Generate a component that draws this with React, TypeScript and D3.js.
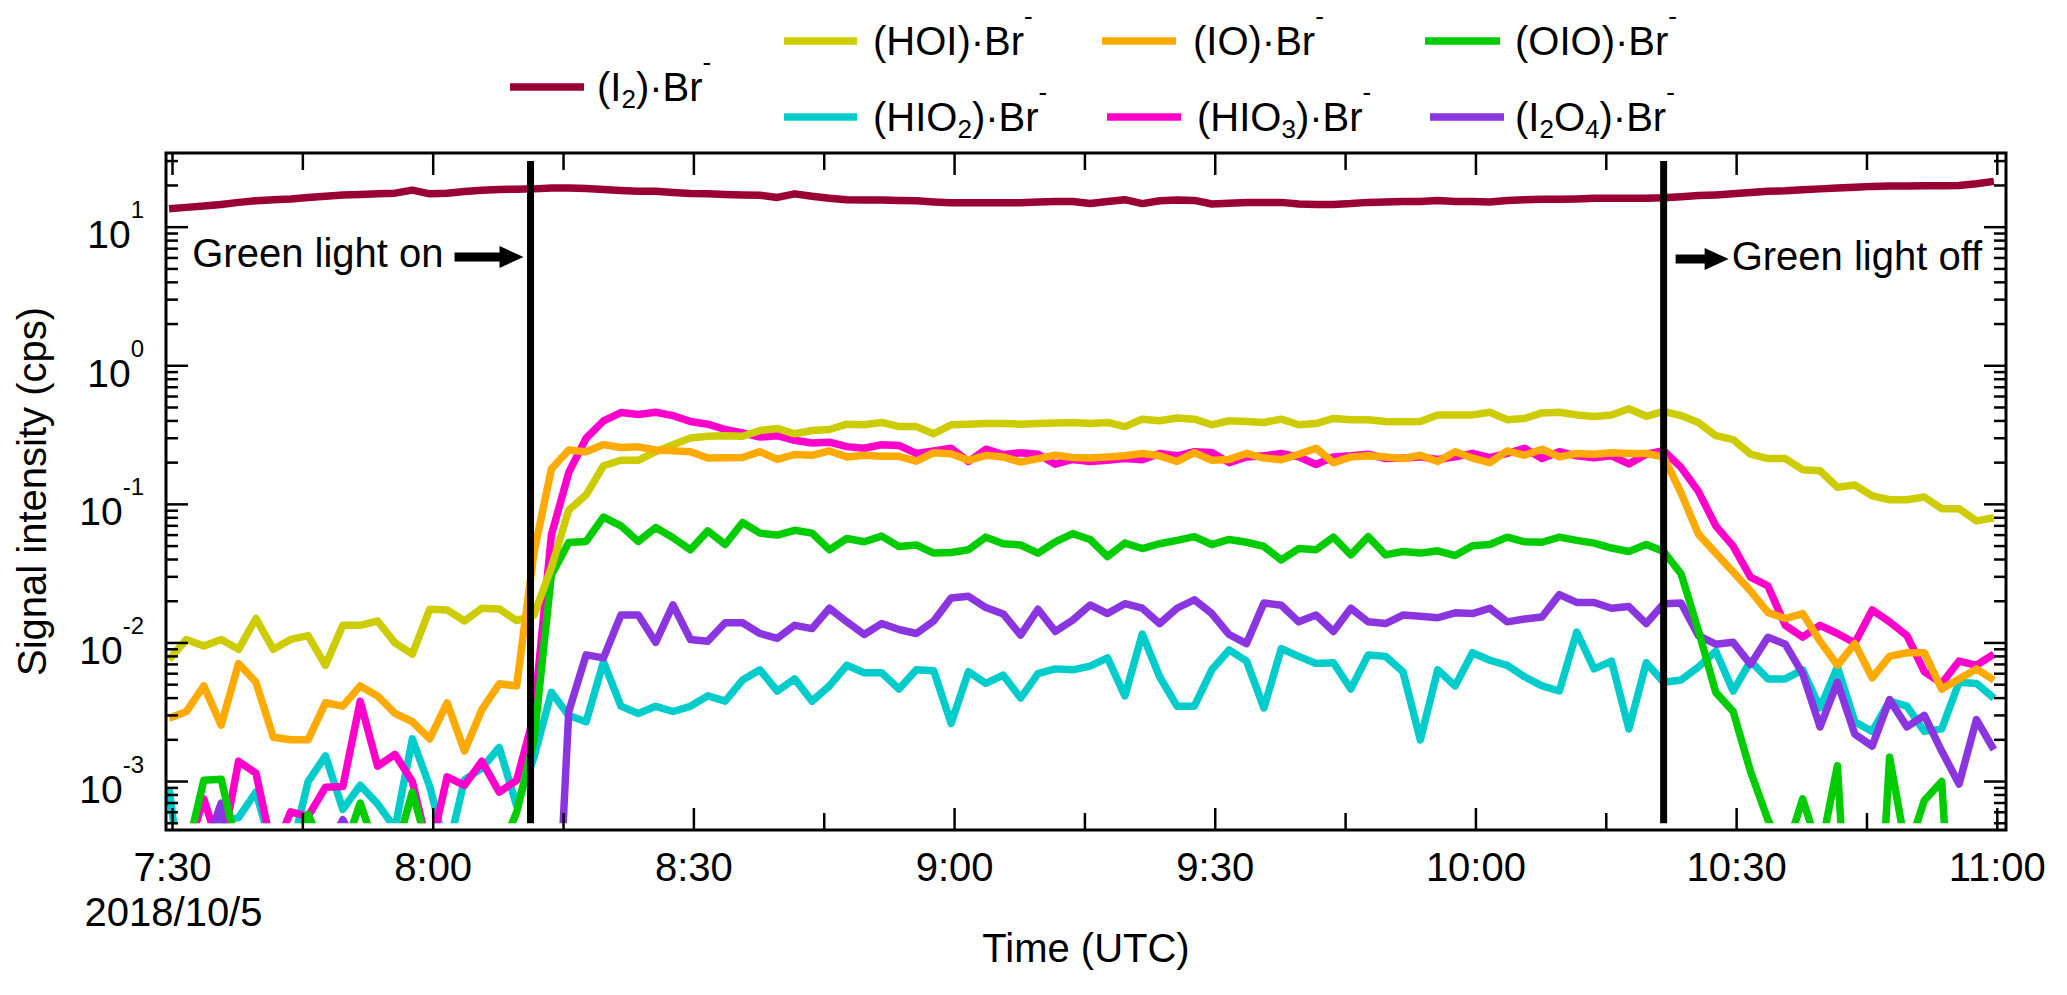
import React, { useRef, useEffect } from 'react';
import * as d3 from 'd3';

// one sample every 2 min, first sample 7:29:36 UTC on 2018/10/5
const startTime = new Date(2018, 9, 5, 7, 29, 36);
const stepMinutes = 2;

const xStart = new Date(2018, 9, 5, 7, 29, 15);
const xEnd = new Date(2018, 9, 5, 11, 1, 0);
const yMin = 4.47e-4;
const yMax = 34.3;
const clipFloor = 5e-4;   // lines are cut here, like the light markers
const markerTop = 30;

const lightOn = new Date(2018, 9, 5, 8, 11, 12);
const lightOff = new Date(2018, 9, 5, 10, 21, 36);

const yDecades = [-3, -2, -1, 0, 1];

const i2Br = [
  13.6, 13.9, 14.2, 14.6, 15.1, 15.5, 15.8, 16.0, 16.4, 16.7,
  17.1, 17.2, 17.4, 17.6, 18.5, 17.4, 17.6, 18.1, 18.5, 18.7,
  18.8, 18.9, 19.2, 19.2, 19.0, 18.7, 18.4, 18.2, 18.2, 17.8,
  17.5, 17.4, 17.2, 17.1, 17.0, 16.4, 17.4, 16.7, 16.2, 15.8,
  15.7, 15.7, 15.6, 15.5, 15.2, 15.0, 15.0, 15.0, 15.0, 15.0,
  15.2, 15.3, 15.3, 14.8, 15.3, 15.8, 14.8, 15.5, 15.7, 15.6,
  14.7, 14.9, 15.1, 15.1, 15.1, 14.7, 14.6, 14.6, 14.8, 15.1,
  15.2, 15.3, 15.3, 15.6, 15.3, 15.3, 15.2, 15.6, 15.8, 15.9,
  15.9, 16.0, 16.2, 16.2, 16.2, 16.2, 16.3, 16.6, 16.9, 17.1,
  17.4, 17.8, 18.2, 18.3, 18.6, 18.9, 19.2, 19.4, 19.7, 19.8,
  19.8, 19.9, 19.9, 20.0, 20.6, 21.4,
];

const hoiBr = [
  0.0076, 0.0106, 0.0095, 0.0106, 0.0090, 0.0150, 0.0090, 0.0106, 0.0113, 0.0069,
  0.0134, 0.0134, 0.0144, 0.0100, 0.0083, 0.0175, 0.0173, 0.0144, 0.0178, 0.0176,
  0.0145, 0.0159, 0.035, 0.091, 0.117, 0.19, 0.208, 0.208, 0.240, 0.269,
  0.301, 0.310, 0.313, 0.310, 0.341, 0.353, 0.323, 0.341, 0.347, 0.379,
  0.375, 0.390, 0.364, 0.364, 0.323, 0.375, 0.379, 0.383, 0.383, 0.379,
  0.383, 0.386, 0.390, 0.383, 0.390, 0.364, 0.412, 0.401, 0.420, 0.412,
  0.375, 0.401, 0.396, 0.390, 0.412, 0.375, 0.383, 0.417, 0.408, 0.408,
  0.396, 0.394, 0.396, 0.442, 0.442, 0.442, 0.462, 0.408, 0.417, 0.457,
  0.462, 0.442, 0.430, 0.442, 0.490, 0.432, 0.468, 0.437, 0.390, 0.313,
  0.293, 0.230, 0.214, 0.214, 0.178, 0.175, 0.133, 0.138, 0.115, 0.108,
  0.108, 0.113, 0.093, 0.093, 0.076, 0.080,
];

const ioBr = [
  0.00286, 0.0032, 0.0049, 0.00255, 0.0071, 0.0052, 0.00209, 0.0020, 0.0020, 0.0037,
  0.0035, 0.0049, 0.00415, 0.0031, 0.0027, 0.00203, 0.0037, 0.00166, 0.0033, 0.00507,
  0.0049, 0.045, 0.18, 0.247, 0.24, 0.27, 0.257, 0.26, 0.247, 0.244,
  0.24, 0.216, 0.217, 0.218, 0.24, 0.211, 0.229, 0.226, 0.243, 0.22,
  0.226, 0.222, 0.222, 0.205, 0.236, 0.232, 0.208, 0.226, 0.22, 0.202,
  0.214, 0.226, 0.218, 0.216, 0.22, 0.224, 0.233, 0.224, 0.204, 0.236,
  0.208, 0.211, 0.233, 0.216, 0.21, 0.23, 0.254, 0.20, 0.22, 0.224,
  0.22, 0.214, 0.226, 0.204, 0.24, 0.216, 0.20, 0.243, 0.226, 0.25,
  0.22, 0.233, 0.23, 0.236, 0.233, 0.233, 0.22, 0.121, 0.061, 0.0445,
  0.0325, 0.0237, 0.0166, 0.015, 0.0163, 0.0103, 0.0069, 0.0099, 0.0056, 0.008,
  0.0085, 0.0085, 0.00465, 0.0055, 0.0065, 0.0054,
];

const oioBr = [
  3e-4, 3e-4, 1.02e-3, 1.04e-3, 3e-4, 3e-4, 3e-4, 3e-4, 5.8e-4, 3e-4,
  3e-4, 7.0e-4, 3e-4, 3e-4, 8.4e-4, 3e-4, 3e-4, 3e-4, 3e-4, 3e-4,
  6e-4, 2e-3, 0.031, 0.053, 0.054, 0.081, 0.070, 0.054, 0.068, 0.0574,
  0.047, 0.0644, 0.0513, 0.074, 0.062, 0.06, 0.065, 0.062, 0.047, 0.0567,
  0.0537, 0.059, 0.0497, 0.0509, 0.0445, 0.045, 0.047, 0.058, 0.052, 0.0509,
  0.0445, 0.0537, 0.0615, 0.0558, 0.042, 0.0525, 0.048, 0.052, 0.055, 0.0585,
  0.0513, 0.0558, 0.0533, 0.0497, 0.0397, 0.048, 0.047, 0.058, 0.0432, 0.0585,
  0.0432, 0.0457, 0.0445, 0.0462, 0.0427, 0.0503, 0.0513, 0.058, 0.0537, 0.0533,
  0.058, 0.055, 0.0525, 0.0484, 0.0457, 0.0513, 0.0457, 0.0316, 0.0123, 0.0044,
  0.0032, 0.00118, 0.00053, 3e-4, 7.5e-4, 3e-4, 1.3e-3, 1e-5, 1e-5, 1.5e-3,
  3e-4, 7.3e-4, 1.0e-3, 1e-5, 3e-4, 3e-4,
];

const hio2Br = [
  8.9e-4, 1e-4, 3e-4, 5.2e-4, 5.5e-4, 8.4e-4, 3e-4, 3e-4, 1.0e-3, 1.53e-3,
  6.3e-4, 9.4e-4, 6.9e-4, 4.6e-4, 2.03e-3, 9.2e-4, 3e-4, 1.03e-3, 1.25e-3, 1.76e-3,
  6.7e-4, 1.5e-3, 4.4e-3, 3.0e-3, 2.7e-3, 7.3e-3, 3.5e-3, 3.1e-3, 0.00349, 0.0032,
  0.00349, 0.00415, 0.0038, 0.0054, 0.0064, 0.0045, 0.0055, 0.0038, 0.0049, 0.0069,
  0.0061, 0.0061, 0.00465, 0.0064, 0.0063, 0.00263, 0.0062, 0.0051, 0.00585, 0.004,
  0.006, 0.0065, 0.0064, 0.0068, 0.0078, 0.00415, 0.0116, 0.0057, 0.0035, 0.0035,
  0.0064, 0.0089, 0.0074, 0.0034, 0.0091, 0.008, 0.0071, 0.0072, 0.00465, 0.0082,
  0.008, 0.0062, 0.002, 0.0064, 0.0049, 0.0085, 0.0075, 0.0069, 0.0057, 0.0049,
  0.0045, 0.012, 0.0065, 0.0074, 0.0024, 0.0072, 0.0052, 0.0054, 0.0067, 0.0087,
  0.0045, 0.0074, 0.0055, 0.0055, 0.0064, 0.0034, 0.0067, 0.0027, 0.0023, 0.0038,
  0.0035, 0.0023, 0.0024, 0.0052, 0.0051, 0.0040,
];

const hio3Br = [
  3e-4, 3e-4, 7.5e-4, 3e-4, 1.4e-3, 1.15e-3, 3e-4, 6.05e-4, 5.6e-4, 9.1e-4,
  9.2e-4, 3.8e-3, 1.29e-3, 1.57e-3, 1.0e-3, 3e-4, 1.08e-3, 9.4e-4, 1.4e-3, 8.4e-4,
  1.02e-3, 3.0e-3, 0.06, 0.17, 0.30, 0.40, 0.46, 0.445, 0.462, 0.437,
  0.396, 0.379, 0.347, 0.328, 0.306, 0.313, 0.29, 0.277, 0.281, 0.261,
  0.254, 0.269, 0.266, 0.233, 0.243, 0.254, 0.204, 0.25, 0.229, 0.236,
  0.23, 0.195, 0.211, 0.204, 0.208, 0.214, 0.21, 0.233, 0.224, 0.24,
  0.237, 0.20, 0.22, 0.224, 0.233, 0.22, 0.194, 0.22, 0.224, 0.23,
  0.214, 0.216, 0.22, 0.211, 0.22, 0.233, 0.217, 0.233, 0.254, 0.214,
  0.24, 0.224, 0.217, 0.224, 0.196, 0.23, 0.244, 0.185, 0.124, 0.07,
  0.05, 0.0298, 0.0258, 0.0134, 0.011, 0.0134, 0.0117, 0.01, 0.0173, 0.0142,
  0.0113, 0.0062, 0.0051, 0.0074, 0.0069, 0.0083,
];

const i2o4Br = [
  3e-4, 3e-4, 3e-4, 7e-4, 1e-5, 3e-4, 3e-4, 3e-4, 3e-4, 3e-4,
  5.3e-4, 3e-4, 3e-4, 3e-4, 3e-4, 3e-4, 3e-4, 3e-4, 3e-4, 3e-4,
  3e-4, 3e-4, 1e-5, 3.2e-3, 8.2e-3, 7.8e-3, 0.0159, 0.0159, 0.0101, 0.0188,
  0.0106, 0.0103, 0.014, 0.014, 0.0117, 0.0108, 0.0134, 0.0127, 0.0178, 0.0142,
  0.0115, 0.0138, 0.0125, 0.0117, 0.0144, 0.0211, 0.0217, 0.018, 0.0162, 0.0114,
  0.0175, 0.0121, 0.0146, 0.0188, 0.0163, 0.0192, 0.0178, 0.0138, 0.0178, 0.0205,
  0.0163, 0.0115, 0.0099, 0.0194, 0.0187, 0.0142, 0.0159, 0.0121, 0.0178, 0.0142,
  0.0138, 0.0159, 0.0156, 0.0152, 0.0165, 0.0163, 0.0178, 0.0142, 0.0149, 0.0154,
  0.0223, 0.0196, 0.0196, 0.0178, 0.0183, 0.0138, 0.0192, 0.0194, 0.0113, 0.0098,
  0.0101, 0.007, 0.011, 0.0098, 0.006, 0.00248, 0.0052, 0.0022, 0.0018, 0.0039,
  0.00248, 0.003, 0.00166, 0.00096, 0.0028, 0.0017,
];

// _x = subscript, ^x = superscript
const series = [
  { key: 'i2', label: '(I_2)·Br^-', color: '#990033', values: i2Br },
  { key: 'hoi', label: '(HOI)·Br^-', color: '#cccc00', values: hoiBr },
  { key: 'io', label: '(IO)·Br^-', color: '#ffaa00', values: ioBr },
  { key: 'oio', label: '(OIO)·Br^-', color: '#00cc00', values: oioBr },
  { key: 'hio2', label: '(HIO_2)·Br^-', color: '#00cccc', values: hio2Br },
  { key: 'hio3', label: '(HIO_3)·Br^-', color: '#ff00cc', values: hio3Br },
  { key: 'i2o4', label: '(I_2O_4)·Br^-', color: '#8b35e0', values: i2o4Br },
];

const drawOrder = ['hio2', 'hio3', 'i2o4', 'oio', 'hoi', 'io', 'i2'];

// legend placement: sample line x1, x2, y and text start
const legendPos: Record<string, [number, number, number, number]> = {
  i2: [510, 584, 87, 597],
  hoi: [784, 857, 41, 873],
  hio2: [784, 857, 117, 873],
  io: [1102, 1176, 41, 1193],
  hio3: [1107, 1181, 117, 1197],
  oio: [1425, 1500, 41, 1515],
  i2o4: [1430, 1504, 117, 1515],
};

const FONT = '"Liberation Sans", Arial, Helvetica, sans-serif';

const App: React.FC = () => {
  const svgRef = useRef<SVGSVGElement | null>(null);

  useEffect(() => {
    if (!svgRef.current) return;
    const svg = d3.select(svgRef.current);
    svg.selectAll('*').remove();

    const x = d3.scaleTime().domain([xStart, xEnd]).range([166, 2006]);
    const y = d3.scaleLog().domain([yMin, yMax]).range([830, 153]);
    const [xl, xr] = x.range();
    const [yb, yt] = y.range();

    const timeAt = (i: number) => new Date(startTime.getTime() + i * stepMinutes * 60000);

    svg.append('rect').attr('width', 2067).attr('height', 995).attr('fill', '#fff');

    svg.append('defs').append('clipPath').attr('id', 'plot-clip')
      .append('rect')
      .attr('x', xl).attr('y', yt)
      .attr('width', xr - xl).attr('height', y(clipFloor) - yt);

    // data lines
    const line = d3.line<number>()
      .x((_, i) => x(timeAt(i)))
      .y(d => y(d));

    const lines = svg.append('g').attr('clip-path', 'url(#plot-clip)');
    drawOrder.forEach(k => {
      const s = series.find(d => d.key === k)!;
      lines.append('path')
        .attr('d', line(s.values) as string)
        .attr('fill', 'none')
        .attr('stroke', s.color)
        .attr('stroke-width', 7.5)
        .attr('stroke-linejoin', 'round');
    });

    // green light markers
    [lightOn, lightOff].forEach(t => {
      svg.append('line')
        .attr('x1', x(t)).attr('x2', x(t))
        .attr('y1', y(clipFloor)).attr('y2', y(markerTop))
        .attr('stroke', '#000').attr('stroke-width', 7);
    });

    // frame
    svg.append('rect')
      .attr('x', xl).attr('y', yt)
      .attr('width', xr - xl).attr('height', yb - yt)
      .attr('fill', 'none').attr('stroke', '#000').attr('stroke-width', 3);

    const ticks = svg.append('g').attr('stroke', '#000').attr('stroke-width', 2.5);

    // x ticks (inside, top and bottom)
    const xTicks = x.ticks(d3.timeMinute.every(15) as d3.TimeInterval);
    xTicks.forEach(t => {
      const major = t.getMinutes() % 30 === 0;
      const len = major ? 22 : 17;
      const px = x(t);
      ticks.append('line').attr('x1', px).attr('x2', px).attr('y1', yb).attr('y2', yb - len);
      ticks.append('line').attr('x1', px).attr('x2', px).attr('y1', yt).attr('y2', yt + len);
    });

    // y ticks (log, inside, left and right)
    const [dMin, dMax] = y.domain();
    for (let e = -4; e <= 1; e++) {
      for (let m = 1; m <= 9; m++) {
        const v = m * Math.pow(10, e);
        if (v < dMin || v > dMax) continue;
        const len = m === 1 ? 22 : 12;
        const py = y(v);
        ticks.append('line').attr('x1', xl).attr('x2', xl + len).attr('y1', py).attr('y2', py);
        ticks.append('line').attr('x1', xr).attr('x2', xr - len).attr('y1', py).attr('y2', py);
      }
    }

    // x tick labels
    const fmt = d3.timeFormat('%-H:%M');
    xTicks.filter(t => t.getMinutes() % 30 === 0).forEach(t => {
      svg.append('text')
        .attr('x', x(t)).attr('y', 881)
        .attr('text-anchor', 'middle')
        .attr('font-family', FONT).attr('font-size', 40)
        .text(fmt(t));
    });
    svg.append('text')
      .attr('x', x(xTicks[0]) + 1).attr('y', 926)
      .attr('text-anchor', 'middle')
      .attr('font-family', FONT).attr('font-size', 40)
      .text(d3.timeFormat('%Y/%-m/%-d')(startTime));

    // y tick labels 10^n
    yDecades.forEach(e => {
      const py = y(Math.pow(10, e));
      const t = svg.append('text')
        .attr('x', 144).attr('y', py + 21)
        .attr('text-anchor', 'end')
        .attr('font-family', FONT).attr('font-size', 39);
      t.append('tspan').text('10');
      t.append('tspan').attr('font-size', 24).attr('dy', -30).text(e < 0 ? `-${-e}` : `${e}`);
    });

    // axis titles
    svg.append('text')
      .attr('transform', `translate(46, ${(yt + yb) / 2}) rotate(-90)`)
      .attr('text-anchor', 'middle')
      .attr('font-family', FONT).attr('font-size', 40)
      .text('Signal intensity (cps)');
    svg.append('text')
      .attr('x', (xl + xr) / 2).attr('y', 962)
      .attr('text-anchor', 'middle')
      .attr('font-family', FONT).attr('font-size', 40)
      .text('Time (UTC)');

    // annotations with arrows
    const arrow = (tail: number, tip: number, cy: number) => {
      const head = 24;
      const p = d3.path();
      p.moveTo(tail, cy - 4.5);
      p.lineTo(tip - head, cy - 4.5);
      p.lineTo(tip - head, cy - 11);
      p.lineTo(tip, cy);
      p.lineTo(tip - head, cy + 11);
      p.lineTo(tip - head, cy + 4.5);
      p.lineTo(tail, cy + 4.5);
      p.closePath();
      svg.append('path').attr('d', p.toString()).attr('fill', '#000');
    };
    const xOn = x(lightOn);
    const xOff = x(lightOff);
    svg.append('text')
      .attr('x', xOn - 87).attr('y', 267)
      .attr('text-anchor', 'end')
      .attr('font-family', FONT).attr('font-size', 40)
      .text('Green light on');
    arrow(xOn - 76, xOn - 7, 257);
    arrow(xOff + 12, xOff + 65, 259);
    svg.append('text')
      .attr('x', xOff + 68).attr('y', 270)
      .attr('text-anchor', 'start')
      .attr('font-family', FONT).attr('font-size', 40)
      .text('Green light off');

    // legend
    series.forEach(s => {
      const [lx1, lx2, ly, tx] = legendPos[s.key];
      svg.append('line')
        .attr('x1', lx1).attr('x2', lx2).attr('y1', ly).attr('y2', ly)
        .attr('stroke', s.color).attr('stroke-width', 7.5);
      const t = svg.append('text')
        .attr('x', tx).attr('y', ly + 14)
        .attr('font-family', FONT).attr('font-size', 40);
      let shift = 0;
      s.label.split(/([_^].)/).filter(p => p.length > 0).forEach(part => {
        if (part[0] === '_') {
          t.append('tspan').attr('font-size', 26).attr('dy', 7 - shift).text(part.slice(1));
          shift = 7;
        } else if (part[0] === '^') {
          t.append('tspan').attr('font-size', 26).attr('dy', -30 - shift).text(part.slice(1));
          shift = -30;
        } else {
          t.append('tspan').attr('dy', -shift).text(part);
          shift = 0;
        }
      });
    });
  }, []);

  return (
    <svg
      ref={svgRef}
      width={2067}
      height={995}
      style={{ position: 'absolute', left: 0, top: 0 }}
    />
  );
};

export default App;
